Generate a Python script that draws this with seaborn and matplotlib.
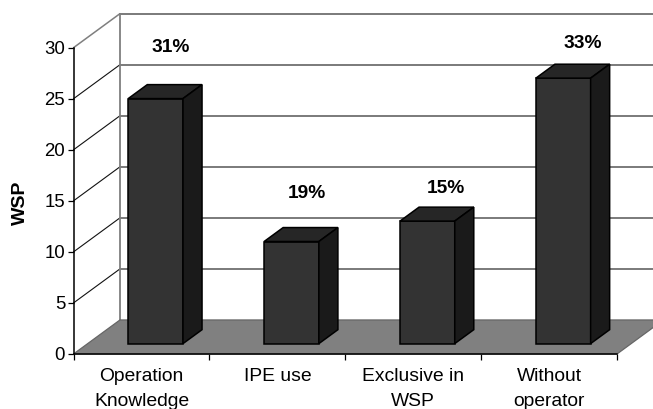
import matplotlib
matplotlib.use("Agg")
import matplotlib.pyplot as plt
from matplotlib.patches import Polygon
from matplotlib.transforms import Affine2D
import pandas as pd
import seaborn as sns

categories = ["Operation\nKnowledge", "IPE use", "Exclusive in\nWSP", "Without\noperator"]
wsp_values = [24, 10, 12, 26]
share_labels = ["31%", "19%", "15%", "33%"]
y_ticks = [0, 5, 10, 15, 20, 25, 30]

sns.set_theme(style="white")
plt.rcParams["font.family"] = ["Liberation Sans", "DejaVu Sans"]

W, H = 653, 409
fig = plt.figure(figsize=(W / 100, H / 100), dpi=100)
ax = fig.add_axes([73.5 / W, 1 - 354 / H, (617 - 73.5) / W, (354 - 47.7) / H])
ax.patch.set_alpha(0)

# Oblique projection of the plot box, in data units
DEPTH_X = 46.5 / 136
DEPTH_Y = 34 / 10.2
BAR_FRONT = 0.305      # bars stand this far into the floor (fraction of depth)
BAR_DEPTH = 0.41       # depth of a bar (fraction of the box depth)

frame = pd.DataFrame({"category": categories, "wsp": wsp_values})
sns.barplot(data=frame, x="category", y="wsp", color="#333333", saturation=1,
            width=0.403, edgecolor="black", linewidth=1.1, ax=ax, zorder=5)
ax.set_xlim(-0.5, 3.5)
ax.set_ylim(0, 30)
x0, x1 = ax.get_xlim()

# Back wall, side wall and floor
wall = "#7f7f7f"
for v in y_ticks[1:]:
    is_top = v == y_ticks[-1]
    ax.plot([x0, x0 + DEPTH_X], [v, v + DEPTH_Y], color=wall if is_top else "#111111",
            lw=1.1 if is_top else 0.8, clip_on=False, zorder=1)
    ax.plot([x0 + DEPTH_X, x1 + DEPTH_X], [v + DEPTH_Y] * 2, color="#6f6f6f",
            lw=1.3, clip_on=False, zorder=1)
ax.plot([x0 + DEPTH_X] * 2, [DEPTH_Y, y_ticks[-1] + DEPTH_Y], color=wall, lw=1.3,
        clip_on=False, zorder=1)
ax.add_patch(Polygon([(x0, 0), (x0 + DEPTH_X, DEPTH_Y), (x1 + DEPTH_X, DEPTH_Y), (x1, 0)],
                     closed=True, facecolor="#808080", edgecolor="#666666", lw=0.9,
                     clip_on=False, zorder=2))

# Push each front face into the floor, then add its top and side faces
shift_x, shift_y = DEPTH_X * BAR_FRONT, DEPTH_Y * BAR_FRONT
bar_dx, bar_dy = DEPTH_X * BAR_DEPTH, DEPTH_Y * BAR_DEPTH
label_lift = [3.6, 3.3, 1.8, 2.0]
label_nudge = [-0.03, -0.03, -0.007, 0.0]
for patch, text, lift, nudge in zip(list(ax.patches[:4]), share_labels, label_lift, label_nudge):
    left, width, value = patch.get_x(), patch.get_width(), patch.get_height()
    patch.set_transform(Affine2D().translate(shift_x, shift_y) + ax.transData)
    patch.set_clip_on(False)
    l, r = left + shift_x, left + width + shift_x
    b, t = shift_y, value + shift_y
    ax.add_patch(Polygon([(l, t), (r, t), (r + bar_dx, t + bar_dy), (l + bar_dx, t + bar_dy)],
                         closed=True, facecolor="#262626", edgecolor="black", lw=1.1,
                         clip_on=False, zorder=6))
    ax.add_patch(Polygon([(r, b), (r + bar_dx, b + bar_dy), (r + bar_dx, t + bar_dy), (r, t)],
                         closed=True, facecolor="#1a1a1a", edgecolor="black", lw=1.1,
                         clip_on=False, zorder=6))
    ax.text((l + r) / 2 + bar_dx + nudge, t + bar_dy + lift, text, ha="center", va="center",
            fontsize=13.8, fontweight="bold", color="black", clip_on=False, zorder=7)

# Axes, ticks and labels
sns.despine(ax=ax, top=True, right=True)
for side in ("left", "bottom"):
    ax.spines[side].set_color("black")
    ax.spines[side].set_linewidth(1.1)
    ax.spines[side].set_zorder(8)
ax.set_yticks(y_ticks)
ax.tick_params(axis="y", which="major", left=True, length=4, width=0.9, color="black",
               labelsize=13.4, pad=2, labelcolor="black")
ax.set_xticks([x0 + i for i in range(5)], minor=True)
ax.tick_params(axis="x", which="minor", bottom=True, length=4, width=0.9, color="black")
ax.tick_params(axis="x", which="major", bottom=False, labelsize=13.9, pad=4, labelcolor="black")
for label in ax.get_xticklabels():
    label.set_linespacing(1.6)
ax.set_xlabel("")
ax.set_ylabel("")
fig.text(20 / W, 1 - 203 / H, "WSP", rotation=90, ha="center", va="center",
         fontsize=14, fontweight="bold", color="black")

fig.savefig("out.png", dpi=100, facecolor="white")
